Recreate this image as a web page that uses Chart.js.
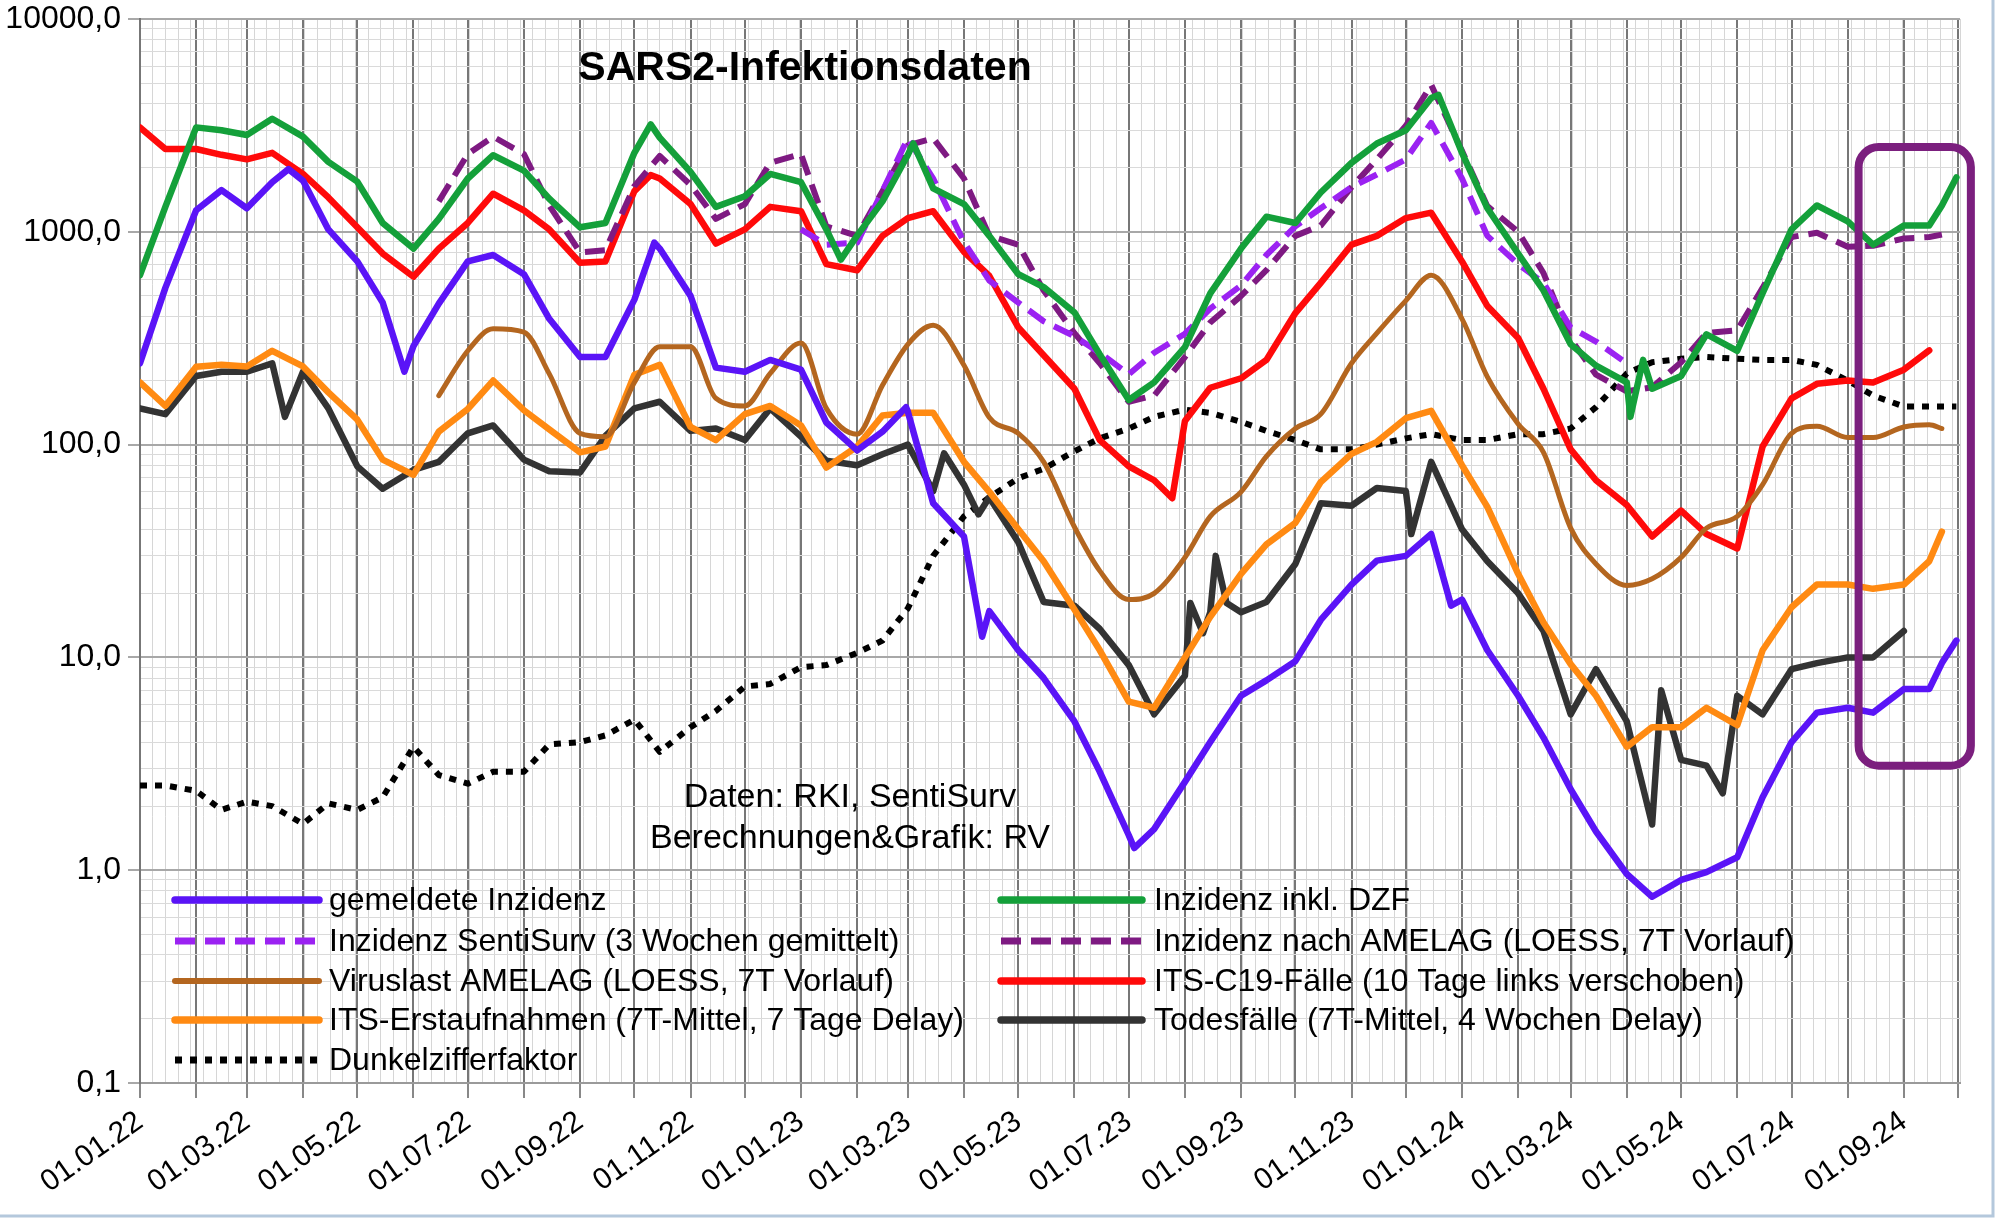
<!DOCTYPE html>
<html lang="de">
<head>
<meta charset="utf-8">
<title>SARS2-Infektionsdaten</title>
<script src="https://cdn.jsdelivr.net/npm/chart.js@4.4.1/dist/chart.umd.min.js"></script>
<style>
  html, body { margin: 0; padding: 0; background: #fff; }
  #wrap { width: 2000px; height: 1218px; position: relative; }
</style>
</head>
<body>
<div id="wrap"><canvas id="chart" width="2000" height="1218"></canvas></div>
<script>
// ============================================
// SARS2-Infektionsdaten — log chart, Chart.js
// ============================================

// ===== DATA =====
// sample dates: 1st and 15th of each month (plus two late-Sept 2024 points)
const dates = [
  '2022-01-01','2022-01-15','2022-02-01','2022-02-15','2022-03-01','2022-03-15',
  '2022-04-01','2022-04-15','2022-05-01','2022-05-15','2022-06-01','2022-06-15',
  '2022-07-01','2022-07-15','2022-08-01','2022-08-15','2022-09-01','2022-09-15',
  '2022-10-01','2022-10-15','2022-11-01','2022-11-15','2022-12-01','2022-12-15',
  '2023-01-01','2023-01-15','2023-02-01','2023-02-15','2023-03-01','2023-03-15',
  '2023-04-01','2023-04-15','2023-05-01','2023-05-15','2023-06-01','2023-06-15',
  '2023-07-01','2023-07-15','2023-08-01','2023-08-15','2023-09-01','2023-09-15',
  '2023-10-01','2023-10-15','2023-11-01','2023-11-15','2023-12-01','2023-12-15',
  '2024-01-01','2024-01-15','2024-02-01','2024-02-15','2024-03-01','2024-03-15',
  '2024-04-01','2024-04-15','2024-05-01','2024-05-15','2024-06-01','2024-06-15',
  '2024-07-01','2024-07-15','2024-08-01','2024-08-15','2024-09-01','2024-09-15',
  '2024-09-22','2024-09-30'
];

const _ = null;

const gemeldet = [
  241, 545, 1262, 1570, 1290, 1710, 1740, 1026, 726, 465, 290, 460,
  726, 778, 632, 390, 258, 258, 480, 834, 500, 230, 220, 250,
  225, 127, 94, 115, 143, 53, 37, 16.5, 10.8, 8, 5.0, 2.9,
  1.46, 1.56, 2.6, 4.0, 6.6, 7.8, 9.6, 15, 22, 28.5, 30, 38,
  18.7, 10.8, 6.6, 4.2, 2.4, 1.52, 0.96, 0.75, 0.9, 0.98, 1.15, 2.2,
  4.0, 5.5, 5.8, 5.5, 7.1, 7.1, 9.4, 12
];
// peaks and dips between the regular sample dates
const gemeldetExtra = [
  ['2022-03-24', 1970], ['2022-05-27', 220], ['2022-10-12', 890], ['2023-02-28', 150],
  ['2023-04-11', 12.5], ['2023-07-04', 1.27], ['2023-12-26', 17.5]
];

const inklDzf = [
  625, 1310, 3095, 3000, 2850, 3400, 2800, 2130, 1720, 1100, 834, 1150,
  1780, 2290, 1940, 1430, 1050, 1100, 2350, 2770, 1910, 1310, 1470, 1870,
  1710, 1026, 960, 1390, 2300, 1600, 1350, 957, 632, 550, 418, 265,
  162, 196, 287, 514, 834, 1178, 1100, 1530, 2110, 2600, 3000, 4250,
  2350, 1290, 790, 530, 296, 235, 196, 183, 210, 330, 276, 514,
  1026, 1330, 1120, 870, 1070, 1070, 1330, 1800
];
const inklDzfExtra = [
  ['2022-10-10', 3200], ['2023-01-23', 740], ['2023-03-04', 2600], ['2023-12-19', 4400],
  ['2024-04-03', 135], ['2024-04-10', 250]
];

const sentiSurv = [
  _, _, _, _, _, _, _, _, _, _, _, _,
  _, _, _, _, _, _, _, _, _, _, _, _,
  1026, 870, 890, 1553, 2750, 1780, 893, 590, 465, 380, 323, 270,
  214, 270, 332, 435, 560, 778, 1060, 1290, 1620, 1860, 2190, 3250,
  1780, 957, 705, 575, 355, 305, 241, _, _, _, _, _,
  _, _, _, _, _, _, _, _
];

const nachAmelag = [
  _, _, _, _, _, _, _, _, _, _, _, 1390,
  2320, 2800, 2320, 1330, 800, 820, 1640, 2270, 1660, 1150, 1350, 2110,
  2320, 1060, 957, 1553, 2550, 2750, 1780, 957, 870, 530, 334, 241,
  159, 170, 258, 375, 500, 660, 957, 1070, 1620, 2190, 3150, 4900,
  2400, 1320, 1000, 640, 313, 213, 178, 186, 244, 334, 345, 545,
  945, 990, 850, 860, 930, 945, 970, _
];

const viruslast = [
  _, _, _, _, _, _, _, _, _, _, _, 170,
  276, 350, 338, 215, 113, 109, 196, 288, 288, 165, 152, 216,
  300, 148, 112, 190, 296, 364, 236, 134, 113, 83, 41, 25.5,
  18.7, 20, 29.5, 46, 60, 88, 119, 139, 241, 334, 475, 625,
  390, 208, 125, 92, 40.5, 27.5, 21.8, 23.4, 29.5, 40.5, 46, 64.8,
  113, 122, 108, 108, 121, 124, 119, _
];

const itsFaelle = [
  3095, 2450, 2450, 2300, 2190, 2350, 1870, 1450, 1050, 790, 615, 834,
  1100, 1510, 1262, 1026, 715, 726, 1553, 1780, 1350, 880, 1026, 1310,
  1250, 705, 660, 957, 1160, 1250, 805, 620, 355, 263, 183, 105,
  79, 68, 129, 185, 205, 250, 415, 575, 870, 957, 1160, 1230,
  726, 448, 317, 183, 95, 68, 52, 37, 49, 38, 32.5, 98,
  165, 193, 200, 196, 225, 277, _, _
];
const itsFaelleExtra = [['2022-10-10', 1850], ['2023-07-25', 56]];

const itsErst = [
  196, 152, 232, 237, 233, 276, 233, 176, 131, 85, 72, 115,
  147, 200, 145, 118, 92, 98, 213, 237, 121, 105, 139, 152,
  123, 78, 98, 137, 141, 141, 83, 60, 40, 28.3, 16.8, 10.8,
  6.2, 5.8, 10, 15.5, 24.7, 34, 42.9, 66.7, 90.5, 103, 133, 144,
  80, 51, 24.7, 14.6, 9.3, 6.6, 3.8, 4.7, 4.7, 5.8, 4.8, 10.8,
  17.2, 22, 22, 21, 22, 28.3, 39, _
];

const todesfaelle = [
  148, 139, 210, 220, 220, 241, 220, 148, 79, 62, 76, 83,
  113, 123, 85, 75, 74, 110, 148, 159, 116, 119, 105, 148,
  109, 84, 80, 90, 100, 60.5, 64.8, 56.5, 34.8, 18.2, 17.5, 13.6,
  9.2, 5.4, 8.2, 16.3, 16.3, 18.2, 27.5, 53, 51.6, 62.5, 60.5, 83,
  40, 28.3, 20, 13.3, 5.4, 8.8, 5.0, 1.64, 3.3, 3.1, 6.6, 5.4,
  8.8, 9.4, 10, 10, 13.3, _, _, _
];
const todesfaelleExtra = [
  ['2022-03-22', 135], ['2023-03-21', 91], ['2023-04-09', 47], ['2023-08-04', 18],
  ['2023-08-11', 13], ['2023-08-18', 30], ['2023-08-24', 18], ['2023-12-04', 38],
  ['2024-04-20', 7.0], ['2024-05-24', 2.3]
];

const dunkelziffer = [
  2.5, 2.5, 2.36, 1.92, 2.1, 2.0, 1.65, 2.06, 1.92, 2.2, 3.8, 2.8,
  2.55, 2.9, 2.9, 3.9, 4.0, 4.3, 5.1, 3.6, 4.7, 5.6, 7.3, 7.5,
  9.0, 9.2, 10.5, 12, 17, 30, 46, 56.5, 69.5, 77, 93, 107,
  119, 135, 146, 141, 128, 116, 105, 95, 95, 100, 107, 112,
  105, 105, 112, 112, 119, 150, 216, 244, 253, 258, 253, 250,
  250, 237, 200, 170, 151, 151, 151, 151
];

// y axis: decades 0,1 .. 10000 with 2..9 minor lines
const yDecades = [0.1, 1, 10, 100, 1000, 10000];
// marked period (purple box): date range and value range
const boxDates = ['2024-08-07', '2024-10-08'];
const boxValues = [2500, 3.1];

// ===== HELPERS =====
const START = Date.UTC(2022, 0, 1);
const dayOf = s => Math.round((Date.parse(s + 'T00:00:00Z') - START) / 86400000);
const X_MAX = dayOf('2024-10-02');

function fmtDay(d) {
  const dt = new Date(START + d * 86400000);
  const p = n => String(n).padStart(2, '0');
  return p(dt.getUTCDate()) + '.' + p(dt.getUTCMonth() + 1) + '.' + p(dt.getUTCFullYear() % 100);
}

// month starts (major lines) and weekly lines (minor)
const monthDays = [];
for (let y = 2022; y <= 2024; y++) {
  for (let m = 0; m < 12; m++) {
    const d = (Date.UTC(y, m, 1) - START) / 86400000;
    if (d <= X_MAX) monthDays.push(d);
  }
}
const monthSet = new Set(monthDays);
const labelSet = new Set(monthDays.filter((d, i) => i % 2 === 0));
const weekDays = Array.from({ length: Math.floor(X_MAX / 7) }, (_, i) => (i + 1) * 7);
const xTickVals = [...new Set([...monthDays, ...weekDays, X_MAX])].sort((a, b) => a - b);

const yTickVals = [];
yDecades.slice(0, -1).forEach(base => {
  for (let m = 1; m <= 9; m++) yTickVals.push(base * m);
});
yTickVals.push(yDecades[yDecades.length - 1]);
const isDecade = v => Math.abs(Math.log10(v) - Math.round(Math.log10(v))) < 1e-9;

const series = (vals, extra = []) => dates.map((d, i) => ({ x: dayOf(d), y: vals[i] }))
  .concat(extra.map(([d, v]) => ({ x: dayOf(d), y: v })))
  .sort((a, b) => a.x - b.x);

// ===== DATASETS =====
const solid = (label, data, color, width = 6.5) => ({
  label, data, borderColor: color, backgroundColor: color,
  borderWidth: width, pointRadius: 0, borderJoinStyle: 'round', borderCapStyle: 'round',
  spanGaps: false
});
const dashed = (label, data, color, dash, width = 6) => ({
  ...solid(label, data, color, width), borderDash: dash, borderCapStyle: 'butt'
});

const dsGemeldet = solid('gemeldete Inzidenz', series(gemeldet, gemeldetExtra), '#5a14f7');
const dsDzf = solid('Inzidenz inkl. DZF', series(inklDzf, inklDzfExtra), '#14a03a');
const dsSenti = dashed('Inzidenz SentiSurv (3 Wochen gemittelt)', series(sentiSurv), '#9b22f2', [20, 10]);
const dsAmelag = dashed('Inzidenz nach AMELAG (LOESS, 7T Vorlauf)', series(nachAmelag), '#7e1a82', [20, 10]);
const dsVirus = solid('Viruslast AMELAG (LOESS, 7T Vorlauf)', series(viruslast), '#b4661f', 5);
dsVirus.cubicInterpolationMode = 'monotone';
const dsIts = solid('ITS-C19-Fälle (10 Tage links verschoben)', series(itsFaelle, itsFaelleExtra), '#ff0a0a');
const dsErst = solid('ITS-Erstaufnahmen (7T-Mittel, 7 Tage Delay)', series(itsErst), '#ff8a12');
const dsTod = solid('Todesfälle (7T-Mittel, 4 Wochen Delay)', series(todesfaelle, todesfaelleExtra), '#333333');
const dsDunkel = dashed('Dunkelzifferfaktor', series(dunkelziffer), '#000000', [7, 8], 6);

const datasets = [dsGemeldet, dsDzf, dsSenti, dsAmelag, dsVirus, dsIts, dsErst, dsTod, dsDunkel];

const legendCols = [
  { items: [dsGemeldet, dsSenti, dsVirus, dsErst, dsDunkel], line: [175, 319], text: 329 },
  { items: [dsDzf, dsAmelag, dsIts, dsTod], line: [1001, 1142], text: 1154 }
];
const legendRows = [900, 941, 981, 1020, 1060];

// ===== DECORATION PLUGIN =====
const decor = {
  id: 'decor',
  afterDatasetsDraw(chart) {
    const { ctx, scales: { x, y } } = chart;
    // purple highlight box
    const x0 = x.getPixelForValue(dayOf(boxDates[0]));
    const x1 = x.getPixelForValue(dayOf(boxDates[1]));
    const y0 = y.getPixelForValue(boxValues[0]);
    const y1 = y.getPixelForValue(boxValues[1]);
    ctx.save();
    ctx.strokeStyle = '#7b1f7e';
    ctx.lineWidth = 8;
    ctx.beginPath();
    ctx.roundRect(x0, y0, x1 - x0, y1 - y0, 20);
    ctx.stroke();
    ctx.restore();
  },
  afterDraw(chart) {
    const { ctx } = chart;
    ctx.save();
    ctx.fillStyle = '#000';
    ctx.textAlign = 'center';
    ctx.textBaseline = 'alphabetic';
    ctx.font = 'bold 41px "Liberation Sans", Arial, sans-serif';
    ctx.fillText('SARS2-Infektionsdaten', 805, 80);
    ctx.font = '34px "Liberation Sans", Arial, sans-serif';
    ctx.fillText('Daten: RKI, SentiSurv', 850, 807);
    ctx.fillText('Berechnungen&Grafik: RV', 850, 848);

    // legend, two columns
    ctx.textAlign = 'left';
    ctx.textBaseline = 'middle';
    ctx.font = '32px "Liberation Sans", Arial, sans-serif';
    legendCols.forEach(col => {
      col.items.forEach((ds, i) => {
        const yy = legendRows[i];
        ctx.save();
        ctx.strokeStyle = ds.borderColor;
        ctx.lineWidth = ds.borderWidth + 1;
        ctx.lineCap = ds.borderDash ? 'butt' : 'round';
        ctx.setLineDash(ds.borderDash || []);
        ctx.beginPath();
        ctx.moveTo(col.line[0], yy);
        ctx.lineTo(col.line[1], yy);
        ctx.stroke();
        ctx.restore();
        ctx.fillText(ds.label, col.text, yy + 1);
      });
    });

    // light frame at right and bottom
    ctx.strokeStyle = '#b4c8dc';
    ctx.lineWidth = 3;
    ctx.beginPath();
    ctx.moveTo(1993, 0);
    ctx.lineTo(1993, 1216);
    ctx.lineTo(0, 1216);
    ctx.stroke();
    ctx.restore();
  }
};

// ===== CHART =====
Chart.defaults.font.family = '"Liberation Sans", Arial, sans-serif';
Chart.defaults.color = '#000';

new Chart(document.getElementById('chart'), {
  type: 'line',
  data: { datasets },
  options: {
    responsive: false,
    animation: false,
    devicePixelRatio: 1,
    layout: { padding: { top: 19, right: 40, left: 0, bottom: 0 } },
    plugins: { legend: { display: false }, tooltip: { enabled: false } },
    scales: {
      x: {
        type: 'linear',
        min: 0,
        max: X_MAX,
        afterBuildTicks: scale => { scale.ticks = xTickVals.map(v => ({ value: v })); },
        afterFit: scale => { scale.height = 135; scale.paddingLeft = 0; scale.paddingRight = 0; },
        grid: {
          color: c => monthSet.has(c.tick && c.tick.value) ? '#777777' : '#d6d6d6',
          lineWidth: c => monthSet.has(c.tick && c.tick.value) ? 2 : 1,
          tickColor: c => monthSet.has(c.tick && c.tick.value) ? '#888888' : 'rgba(0,0,0,0)',
          tickLength: 15
        },
        border: { display: true, color: '#9a9a9a', width: 2 },
        ticks: {
          autoSkip: false,
          minRotation: 35,
          maxRotation: 35,
          padding: 6,
          font: { size: 30 },
          color: '#000',
          callback: v => labelSet.has(v) ? fmtDay(v) : ''
        }
      },
      y: {
        type: 'logarithmic',
        min: 0.1,
        max: 10000,
        afterBuildTicks: scale => { scale.ticks = yTickVals.map(v => ({ value: v })); },
        afterFit: scale => { scale.width = 140; scale.paddingTop = 0; scale.paddingBottom = 0; },
        grid: {
          color: c => c.tick && isDecade(c.tick.value) ? '#a8a8a8' : '#dadada',
          lineWidth: c => c.tick && isDecade(c.tick.value) ? 2 : 1,
          tickColor: c => c.tick && isDecade(c.tick.value) ? '#a8a8a8' : 'rgba(0,0,0,0)',
          tickLength: 12
        },
        border: { display: true, color: '#777777', width: 2 },
        ticks: {
          autoSkip: false,
          padding: 7,
          font: { size: 32 },
          color: '#000',
          callback: v => isDecade(v) ? v.toFixed(1).replace('.', ',') : ''
        }
      }
    }
  },
  plugins: [decor]
});
</script>
</body>
</html>
